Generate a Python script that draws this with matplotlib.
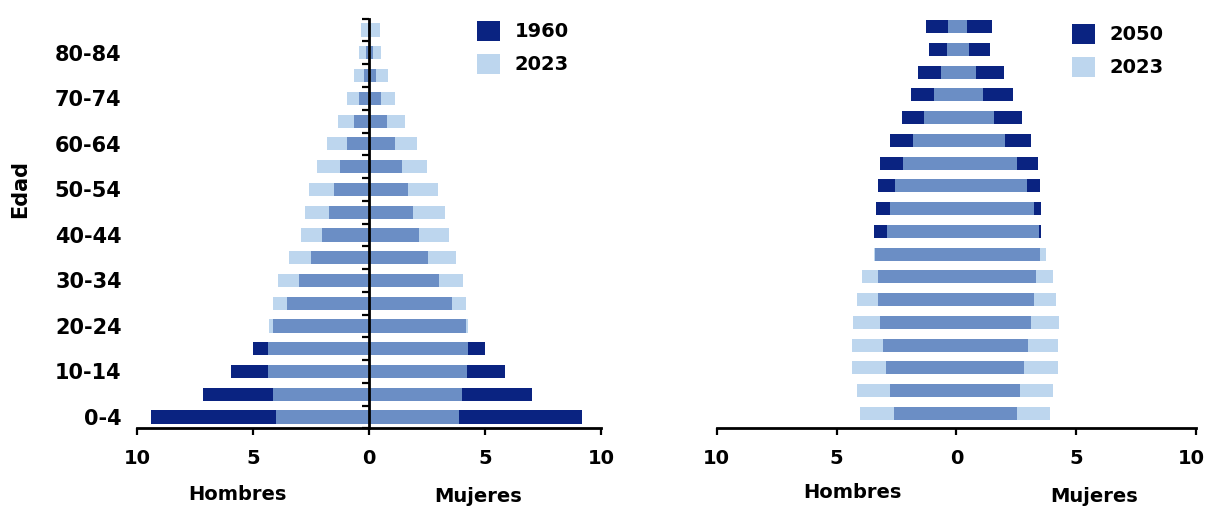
import numpy as np
import matplotlib
matplotlib.use("Agg")
import matplotlib.pyplot as plt
import matplotlib.transforms as mtransforms

ages = ['0-4', '5-9', '10-14', '15-19', '20-24', '25-29', '30-34', '35-39', '40-44',
        '45-49', '50-54', '55-59', '60-64', '65-69', '70-74', '75-79', '80-84', '85+']

male_1960 = [9.40, 7.17, 5.96, 5.01, 4.12, 3.53, 3.01, 2.49, 2.04, 1.74, 1.53, 1.27, 0.96, 0.64, 0.43, 0.23, 0.11, 0.05]
female_1960 = [9.17, 7.01, 5.86, 5.00, 4.17, 3.56, 3.03, 2.54, 2.14, 1.89, 1.67, 1.43, 1.10, 0.77, 0.52, 0.30, 0.16, 0.05]
male_2023 = [4.02, 4.14, 4.35, 4.34, 4.30, 4.14, 3.93, 3.43, 2.91, 2.75, 2.57, 2.23, 1.80, 1.35, 0.93, 0.66, 0.41, 0.34]
female_2023 = [3.89, 4.02, 4.23, 4.25, 4.27, 4.17, 4.05, 3.74, 3.45, 3.26, 2.96, 2.51, 2.05, 1.57, 1.11, 0.81, 0.53, 0.46]
male_2050 = [2.61, 2.75, 2.92, 3.07, 3.18, 3.25, 3.28, 3.38, 3.42, 3.35, 3.28, 3.18, 2.78, 2.26, 1.88, 1.60, 1.15, 1.28]
female_2050 = [2.53, 2.67, 2.81, 2.97, 3.11, 3.24, 3.32, 3.47, 3.54, 3.54, 3.49, 3.42, 3.11, 2.74, 2.38, 1.99, 1.42, 1.50]

xticks = [-10, -5, 0, 5, 10]
xticklabels = ['10', '5', '0', '5', '10']

NAVY = '#0a2381'
LIGHT = '#bdd6ee'
MID = '#6b8ec5'

plt.rcParams['font.family'] = ['DejaVu Sans']
plt.rcParams['font.weight'] = 'bold'

W, H = 1207, 507
fig = plt.figure(figsize=(W / 100, H / 100), dpi=100)

ax1 = fig.add_axes([137 / W, (H - 428.4) / H, 464 / W, 409.7 / H])
ax2 = fig.add_axes([716.7 / W, (H - 427.7) / H, 479.3 / W, 409.5 / H])

y = np.arange(len(ages))
bh = 0.58


def pyramid(ax, m_old, f_old, m_new, f_new, lab_old, lab_new):
    m_old = np.array(m_old); f_old = np.array(f_old)
    m_new = np.array(m_new); f_new = np.array(f_new)
    h1 = ax.barh(y, -m_old, height=bh, color=NAVY, label=lab_old, zorder=1)
    ax.barh(y, f_old, height=bh, color=NAVY, zorder=1)
    h2 = ax.barh(y, -m_new, height=bh, color=LIGHT, label=lab_new, zorder=1)
    ax.barh(y, f_new, height=bh, color=LIGHT, zorder=1)
    ax.barh(y, -np.minimum(m_old, m_new), height=bh, color=MID, zorder=1.5)
    ax.barh(y, np.minimum(f_old, f_new), height=bh, color=MID, zorder=1.5)
    ax.set_xlim(-10, 10)
    ax.set_xticks(xticks)
    ax.set_xticklabels(xticklabels, fontsize=14, fontweight='bold')
    ax.tick_params(axis='x', length=5, width=1.6, pad=10, direction='out')
    for s in ['top', 'right', 'left']:
        ax.spines[s].set_visible(False)
    ax.spines['bottom'].set_linewidth(2.0)
    return h1, h2


h1, h2 = pyramid(ax1, male_1960, female_1960, male_2023, female_2023, '1960', '2023')
ax1.set_ylim(-0.5, 17.5)
ax1.set_yticks(y[::2])
ax1.set_yticklabels(ages[::2], fontsize=15, fontweight='bold')
ax1.tick_params(axis='y', length=0, pad=11)

sec = ax1.secondary_yaxis(0.5)
try:
    sec.set_alignment('left')
except Exception:
    pass
sec.set_yticks(np.arange(-0.5, 17.6, 1.0))
sec.tick_params(axis='y', length=5, width=1.6, labelleft=False, labelright=False, direction='out')
sec.spines['left'].set_linewidth(2.0)
sec.spines['right'].set_linewidth(2.0)
sec.set_zorder(5)
sec.patch.set_visible(False)

g1, g2 = pyramid(ax2, male_2050, female_2050, male_2023, female_2023, '2050', '2023')
ax2.set_ylim(-0.63, 17.37)
ax2.set_yticks([])

# nudge the last tick label of the right chart so it stays inside the figure
last = ax2.get_xticklabels()[-1]
last.set_transform(last.get_transform() + mtransforms.ScaledTranslation(-5 / 100, 0, fig.dpi_scale_trans))

fig.text(20.5 / W, 1 - 189 / H, 'Edad', rotation=90, ha='center', va='center', fontsize=15, fontweight='bold')
fig.text(237 / W, 1 - 495 / H, 'Hombres', ha='center', va='center', fontsize=14, fontweight='bold')
fig.text(478 / W, 1 - 497 / H, 'Mujeres', ha='center', va='center', fontsize=14, fontweight='bold')
fig.text(852.5 / W, 1 - 493 / H, 'Hombres', ha='center', va='center', fontsize=14, fontweight='bold')
fig.text(1094 / W, 1 - 497 / H, 'Mujeres', ha='center', va='center', fontsize=14, fontweight='bold')

leg_kw = dict(loc='upper left', frameon=False, borderpad=0, borderaxespad=0,
              handlelength=1.18, handleheight=1.18, handletextpad=0.77, labelspacing=0.65,
              prop={'size': 14, 'weight': 'bold'})
fig.legend([h1, h2], ['1960', '2023'], bbox_to_anchor=(477 / W, 1 - 21 / H), **leg_kw)
fig.legend([g1, g2], ['2050', '2023'], bbox_to_anchor=(1071.7 / W, 1 - 24 / H), **leg_kw)

fig.savefig('out.png', dpi=100)
